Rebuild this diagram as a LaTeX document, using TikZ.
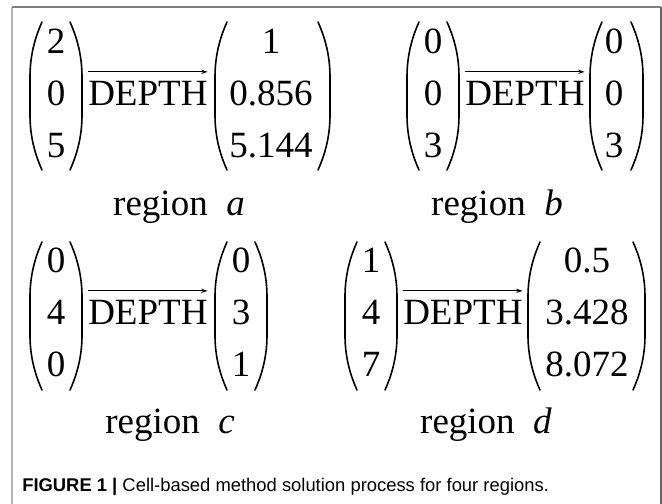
\documentclass[tikz,border=0pt]{standalone}
\usepackage{fontspec}
\setmainfont{Liberation Serif}
\newfontfamily\capfont{Liberation Sans}
\usetikzlibrary{arrows.meta}
\newcommand\mymat[4]{%
  \draw[parenline] (#1+12,#3) .. controls (#1+3,#3+20) and (#1,#3+38) .. (#1,#3+55) -- (#1,#4-55) .. controls (#1,#4-38) and (#1+3,#4-20) .. (#1+12,#4);
  \draw[parenline] (#2-12,#3) .. controls (#2-3,#3+20) and (#2,#3+38) .. (#2,#3+55) -- (#2,#4-55) .. controls (#2,#4-38) and (#2-3,#4-20) .. (#2-12,#4);
}
\begin{document}
\begin{tikzpicture}[x=0.75pt,y=-0.75pt,
  txt/.style={inner sep=0pt, anchor=base, font=\fontsize{27.75}{33}\selectfont},
  dep/.style={txt, anchor=base west},
  parenline/.style={line width=1.2pt, line cap=round},
  deparrow/.style={line width=0.6pt, -{Stealth[length=5pt,width=3.2pt]}},
  framel/.style={line width=1.5pt}]
\useasboundingbox (0,0) rectangle (662,504);
% frame
\draw[framel, black!30] (12,504) -- (12,7);
\draw[framel, black!50] (12,7) -- (661,7);
\draw[framel, black!60] (661,7) -- (661,504);

% region a
\mymat{30}{82}{22}{170}
\node[txt] (a1) at (56,53) {2};
\node[txt] (a2) at (56,105) {0};
\node[txt] (a3) at (56,157) {5};
\node[dep] (ad) at (88,105) {DEPTH};
\draw[deparrow] ([yshift=6.5pt]ad.north west) -- ([yshift=6.5pt]ad.north east);
\mymat{215}{330}{22}{170}
\node[txt] (ar1) at (271,53) {1};
\node[txt] (ar2) at (271,105) {0.856};
\node[txt] (ar3) at (271,157) {5.144};
\node[txt] (la) at (179,215) {region\hspace{0.5em}\textit{a}};

% region b
\mymat{407}{459}{22}{170}
\node[txt] (b1) at (433,53) {0};
\node[txt] (b2) at (433,105) {0};
\node[txt] (b3) at (433,157) {3};
\node[dep] (bd) at (465,105) {DEPTH};
\draw[deparrow] ([yshift=6.5pt]bd.north west) -- ([yshift=6.5pt]bd.north east);
\mymat{590}{643}{22}{170}
\node[txt] (br1) at (614,53) {0};
\node[txt] (br2) at (614,105) {0};
\node[txt] (br3) at (614,157) {3};
\node[txt] (lb) at (497,215) {region\hspace{0.5em}\textit{b}};

% region c
\mymat{30}{82}{242}{390}
\node[txt] (c1) at (56,272) {0};
\node[txt] (c2) at (56,324) {4};
\node[txt] (c3) at (56,376) {0};
\node[dep] (cd) at (88,324) {DEPTH};
\draw[deparrow] ([yshift=6.5pt]cd.north west) -- ([yshift=6.5pt]cd.north east);
\mymat{215}{267}{242}{390}
\node[txt] (cr1) at (241,272) {0};
\node[txt] (cr2) at (241,324) {3};
\node[txt] (cr3) at (241,376) {1};
\node[txt] (lc) at (170,433) {region\hspace{0.5em}\textit{c}};

% region d
\mymat{345}{397}{242}{390}
\node[txt] (d1) at (371,272) {1};
\node[txt] (d2) at (371,324) {4};
\node[txt] (d3) at (371,376) {7};
\node[dep] (dd) at (403,324) {DEPTH};
\draw[deparrow] ([yshift=6.5pt]dd.north west) -- ([yshift=6.5pt]dd.north east);
\mymat{528}{645}{242}{390}
\node[txt] (dr1) at (587,272) {0.5};
\node[txt] (dr2) at (587,324) {3.428};
\node[txt] (dr3) at (587,376) {8.072};
\node[txt] (ld) at (486,433) {region\hspace{0.5em}\textit{d}};

% caption
\node[anchor=base west, inner sep=0pt, font=\capfont\fontsize{13.8}{16}\selectfont] (cap) at (22,491) {\textbf{FIGURE 1 |} Cell-based method solution process for four regions.};
\end{tikzpicture}
\end{document}
